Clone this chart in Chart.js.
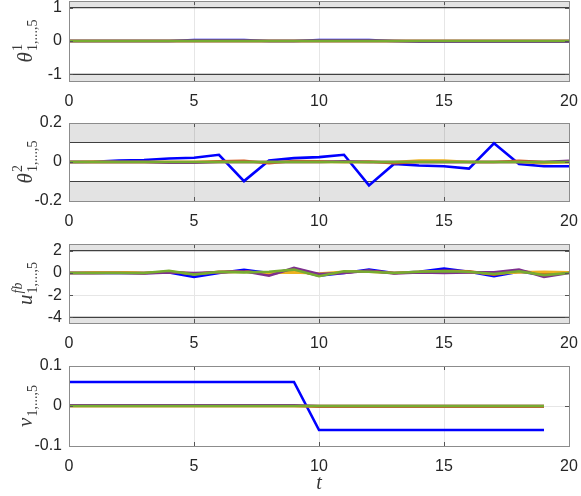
<!DOCTYPE html>
<html>
<head>
<meta charset="utf-8">
<script src="https://cdn.jsdelivr.net/npm/chart.js@4.4.0/dist/chart.umd.min.js"></script>
<style>
  body { margin: 0; background: #fff; }
  #wrap { position: relative; width: 581px; height: 496px; }
  canvas { position: absolute; left: 0; }
</style>
</head>
<body>
<div id="wrap">
  <canvas id="theta1-chart" style="top:0px"></canvas>
  <canvas id="theta2-chart" style="top:112px"></canvas>
  <canvas id="ufb-chart" style="top:232px"></canvas>
  <canvas id="v-chart" style="top:354px"></canvas>
</div>
<script>
// time axis
const tSteps = [0, 1, 2, 3, 4, 5, 6, 7, 8, 9, 10, 11, 12, 13, 14, 15, 16, 17, 18, 19, 20];
const tTicks = [0, 5, 10, 15, 20];

// theta^1 (agents 1..5)
const theta1Blue   = [0, 0, 0, 0, 0, 0.025, 0.025, 0.025, 0, 0, 0.025, 0.025, 0.025, 0, -0.02, -0.02, -0.02, -0.02, -0.02, -0.02, -0.02];
const theta1Orange = [0, 0, 0, 0, 0, 0, 0, 0, 0, 0, 0, 0, 0, 0, 0, 0, 0, 0, 0, 0, 0];
const theta1Yellow = [0, 0, 0, 0, 0, 0, 0, 0, 0, 0, 0, 0, 0, 0, 0, 0, 0, 0, 0, 0, 0];
const theta1Purple = [0, 0, 0, 0, 0, 0, 0, 0, 0, 0, 0, 0, 0, 0, 0, 0, 0, 0, 0, 0, 0];
const theta1Green  = [0, 0, 0, 0, 0, 0, 0, 0, 0, 0, 0, 0, 0, 0, 0, 0, 0, 0, 0, 0, 0];
const theta1Ticks = [-1, 0, 1];
const theta1Bound = 1;

// theta^2
const theta2Blue   = [0, 0.001, 0.008, 0.01, 0.018, 0.022, 0.037, -0.098, 0.008, 0.02, 0.025, 0.037, -0.12, -0.01, -0.018, -0.022, -0.034, 0.096, -0.01, -0.022, -0.022];
const theta2Orange = [0, 0, 0, 0, 0, 0, 0.003, 0.006, -0.006, 0.005, 0.003, 0, 0.002, -0.006, 0, 0, 0, 0, 0.006, 0, 0];
const theta2Yellow = [0, 0.002, 0, 0, 0, 0, 0, 0, 0, 0, 0, 0, 0, 0, 0.007, 0.007, 0, 0, 0, -0.006, 0];
const theta2Purple = [0, 0, 0, 0, -0.003, -0.003, 0, 0, 0, 0, 0, 0.003, 0, 0, 0, 0, 0, 0, 0, 0, 0.006];
const theta2Green  = [0, 0, 0, 0, 0, 0, 0, 0, 0, 0, 0, 0, 0, 0, 0, 0, 0, 0, 0, 0, 0];
const theta2Ticks = [-0.2, 0, 0.2];
const theta2Bound = 0.1;

// u^fb
const ufbBlue   = [0, 0, 0, 0, 0.05, -0.35, 0, 0.28, 0, 0.3, -0.25, 0, 0.3, 0, 0.1, 0.4, 0.1, -0.3, 0.1, -0.15, 0.05];
const ufbOrange = [0, 0, 0.05, 0, 0.1, -0.1, 0.1, 0.15, -0.1, 0.2, -0.15, 0.05, 0.2, 0, 0.05, 0.2, 0.15, -0.15, 0.2, -0.1, 0.05];
const ufbYellow = [0, 0.05, 0.05, 0, 0.1, -0.05, 0.05, 0.1, 0, 0.05, -0.05, 0.1, 0.1, 0, 0.1, 0.15, 0.05, -0.05, 0.05, 0.1, 0.05];
const ufbPurple = [0, 0, 0, -0.05, 0.05, 0, 0.05, 0.15, -0.25, 0.45, -0.1, 0, 0.2, -0.05, 0.05, 0, 0.05, 0.05, 0.3, -0.35, 0];
const ufbGreen  = [0, 0, 0, 0, 0.2, -0.15, 0.1, 0.05, 0.1, 0.3, -0.3, 0.15, 0.1, 0, 0.1, 0.15, 0.1, -0.1, 0.15, -0.2, 0];
const ufbTicks = [-4, -2, 0, 2];
const ufbUpper = 2;
const ufbLower = -4;

// v (ends at t = 19)
const vBlue   = [0.06, 0.06, 0.06, 0.06, 0.06, 0.06, 0.06, 0.06, 0.06, 0.06, -0.06, -0.06, -0.06, -0.06, -0.06, -0.06, -0.06, -0.06, -0.06, -0.06];
const vOrange = [0, 0, 0, 0, 0, 0, 0, 0, 0, 0, -0.0015, -0.0015, -0.0015, -0.0015, -0.0015, -0.0015, -0.0015, -0.0015, -0.0015, -0.0015];
const vYellow = [0, 0, 0, 0, 0, 0, 0, 0, 0, 0, 0, 0, 0, 0, 0, 0, 0, 0, 0, 0];
const vPurple = [0.0015, 0.0015, 0.0015, 0.0015, 0.0015, 0.0015, 0.0015, 0.0015, 0.0015, 0.0015, 0, 0, 0, 0, 0, 0, 0, 0, 0, 0];
const vGreen  = [0, 0, 0, 0, 0, 0, 0, 0, 0, 0, 0, 0, 0, 0, 0, 0, 0, 0, 0, 0];
const vTicks = [-0.1, 0, 0.1];

const agentColors = ["#0000ff", "#d95319", "#edb120", "#7e2f8e", "#77ac30"];
const tickFont = { family: "'Liberation Sans', Arial, sans-serif", size: 16 };

function toPoints(values) {
    return values.map((v, i) => ({ x: tSteps[i], y: v }));
}

function agentDatasets(series) {
    return series.map((vals, i) => ({
        data: toPoints(vals),
        borderColor: agentColors[i],
        borderWidth: 2.6,
        pointRadius: 0,
        fill: false,
        order: 5 - i,
    }));
}

function bandDataset(level, target) {
    return {
        data: [{ x: 0, y: level }, { x: 20, y: level }],
        borderColor: "#404040",
        borderWidth: 1.2,
        backgroundColor: "rgba(0,0,0,0.11)",
        pointRadius: 0,
        fill: target,
        order: 10,
    };
}

// box around plot area with inward ticks
const boxFrame = {
    id: "boxFrame",
    afterDraw(chart) {
        const ctx = chart.ctx, a = chart.chartArea;
        const xs = chart.scales.x, ys = chart.scales.y;
        ctx.save();
        ctx.strokeStyle = "#555";
        ctx.lineWidth = 1;
        ctx.beginPath();
        xs.ticks.forEach(t => {
            const px = Math.round(xs.getPixelForValue(t.value)) + 0.5;
            ctx.moveTo(px, a.bottom); ctx.lineTo(px, a.bottom - 4);
            ctx.moveTo(px, a.top); ctx.lineTo(px, a.top + 4);
        });
        ys.ticks.forEach(t => {
            const py = Math.round(ys.getPixelForValue(t.value)) + 0.5;
            ctx.moveTo(a.left, py); ctx.lineTo(a.left + 4, py);
            ctx.moveTo(a.right, py); ctx.lineTo(a.right - 4, py);
        });
        ctx.stroke();
        ctx.strokeStyle = "#8c8c8c";
        ctx.strokeRect(Math.round(a.left) + 0.5, Math.round(a.top) + 0.5, Math.round(a.right - a.left), Math.round(a.bottom - a.top));
        ctx.restore();
    }
};

// rotated LaTeX-like y label: base^{sup}_{sub}
const mathLabel = {
    id: "mathLabel",
    afterDraw(chart, args, opts) {
        if (!opts.base) return;
        const ctx = chart.ctx, a = chart.chartArea;
        const cy = (a.top + a.bottom) / 2;
        const baseFont = "italic 21px 'Liberation Serif', 'DejaVu Serif', serif";
        const supFont = (opts.supItalic ? "italic " : "") + "14px 'Liberation Serif', 'DejaVu Serif', serif";
        const subFont = "14px 'Liberation Serif', 'DejaVu Serif', serif";
        ctx.save();
        ctx.translate(opts.x, cy);
        ctx.rotate(-Math.PI / 2);
        ctx.fillStyle = "#3a3a3a";
        ctx.textBaseline = "alphabetic";
        ctx.font = baseFont;
        const wb = ctx.measureText(opts.base).width;
        ctx.font = supFont;
        const wsup = opts.sup ? ctx.measureText(opts.sup).width : 0;
        ctx.font = subFont;
        const wsub = opts.sub ? ctx.measureText(opts.sub).width : 0;
        const total = wb + 1 + Math.max(wsup, wsub);
        const x0 = -total / 2;
        ctx.font = baseFont;
        ctx.fillText(opts.base, x0, 6);
        if (opts.sup) {
            ctx.font = supFont;
            ctx.fillText(opts.sup, x0 + wb + 1, -4);
        }
        if (opts.sub) {
            ctx.font = subFont;
            ctx.fillText(opts.sub, x0 + wb + 1, 11);
        }
        ctx.restore();
    }
};

function createPanel(chartId, height, plotTop, plotBottom, datasets, yMin, yMax, yTicks, label, showT) {
    const el = document.getElementById(chartId);
    el.width = 581;
    el.height = height;
    el.style.width = "581px";
    el.style.height = height + "px";
    return new Chart(el.getContext("2d"), {
        type: "line",
        data: { datasets: datasets },
        options: {
            responsive: false,
            animation: false,
            events: [],
            layout: { padding: { top: plotTop, right: 12, left: 0, bottom: 0 } },
            plugins: {
                legend: { display: false },
                tooltip: { enabled: false },
                mathLabel: label,
            },
            scales: {
                x: {
                    type: "linear",
                    min: 0,
                    max: 20,
                    afterBuildTicks: s => { s.ticks = tTicks.map(v => ({ value: v })); },
                    afterFit: s => {
                        s.height = height - plotBottom;
                        s.paddingLeft = 0;
                        s.paddingRight = 0;
                    },
                    grid: { color: "#e6e6e6", drawTicks: false },
                    border: { display: false },
                    ticks: { font: tickFont, color: "#262626", padding: 11, maxRotation: 0 },
                    title: {
                        display: showT,
                        text: "t",
                        font: { family: "'Liberation Serif', 'DejaVu Serif', serif", size: 20, style: "italic" },
                        color: "#333",
                        padding: { top: 0, bottom: 0 },
                    },
                },
                y: {
                    type: "linear",
                    min: yMin,
                    max: yMax,
                    afterBuildTicks: s => { s.ticks = yTicks.map(v => ({ value: v })); },
                    afterFit: s => {
                        s.width = 69;
                        s.paddingTop = 0;
                        s.paddingBottom = 0;
                    },
                    grid: { color: "#e6e6e6", drawTicks: false },
                    border: { display: false },
                    ticks: { font: tickFont, color: "#262626", padding: 7, callback: v => String(v) },
                },
            },
        },
        plugins: [boxFrame, mathLabel],
    });
}

document.addEventListener("DOMContentLoaded", function () {
    createPanel("theta1-chart", 112, 1, 81,
        [bandDataset(theta1Bound, "end"), bandDataset(-theta1Bound, "start")]
            .concat(agentDatasets([theta1Blue, theta1Orange, theta1Yellow, theta1Purple, theta1Green])),
        -1.2, 1.2, theta1Ticks,
        { base: "θ", sup: "1", sub: "1,...,5", x: 26 }, false);

    createPanel("theta2-chart", 120, 11, 89,
        [bandDataset(theta2Bound, "end"), bandDataset(-theta2Bound, "start")]
            .concat(agentDatasets([theta2Blue, theta2Orange, theta2Yellow, theta2Purple, theta2Green])),
        -0.2, 0.2, theta2Ticks,
        { base: "θ", sup: "2", sub: "1,...,5", x: 26 }, false);

    createPanel("ufb-chart", 122, 12, 91,
        [bandDataset(ufbUpper, "end"), bandDataset(ufbLower, "start")]
            .concat(agentDatasets([ufbBlue, ufbOrange, ufbYellow, ufbPurple, ufbGreen])),
        -4.5, 2.6, ufbTicks,
        { base: "u", sup: "fb", supItalic: true, sub: "1,...,5", x: 26 }, false);

    createPanel("v-chart", 142, 12, 92,
        agentDatasets([vBlue, vOrange, vYellow, vPurple, vGreen]),
        -0.1, 0.1, vTicks,
        { base: "v", sup: "", sub: "1,...,5", x: 26 }, true);
});
</script>
</body>
</html>
